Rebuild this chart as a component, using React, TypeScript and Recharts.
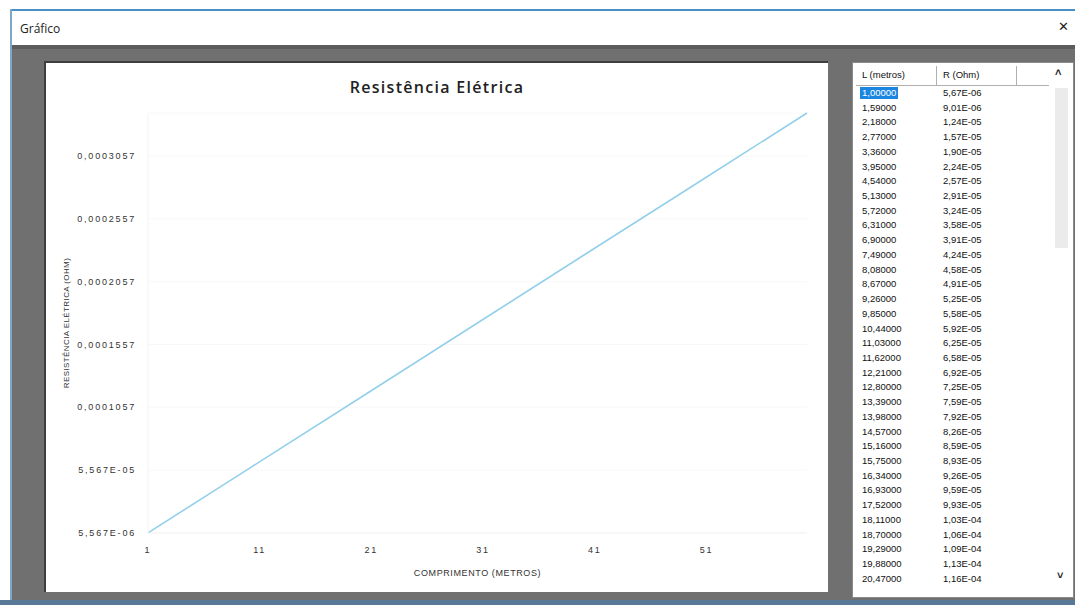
import React from "react";
import { LineChart, Line, XAxis, YAxis, CartesianGrid, Label } from "recharts";

// Values shown in the side table (L in metres, R in ohm)
const tableLengths = [
  1.0, 1.59, 2.18, 2.77, 3.36, 3.95, 4.54, 5.13, 5.72, 6.31, 6.9, 7.49, 8.08, 8.67, 9.26, 9.85, 10.44,
  11.03, 11.62, 12.21, 12.8, 13.39, 13.98, 14.57, 15.16, 15.75, 16.34, 16.93, 17.52, 18.11, 18.7, 19.29,
  19.88, 20.47,
];
const tableResistances = [
  5.67e-6, 9.01e-6, 1.24e-5, 1.57e-5, 1.9e-5, 2.24e-5, 2.57e-5, 2.91e-5, 3.24e-5, 3.58e-5, 3.91e-5,
  4.24e-5, 4.58e-5, 4.91e-5, 5.25e-5, 5.58e-5, 5.92e-5, 6.25e-5, 6.58e-5, 6.92e-5, 7.25e-5, 7.59e-5,
  7.92e-5, 8.26e-5, 8.59e-5, 8.93e-5, 9.26e-5, 9.59e-5, 9.93e-5, 1.03e-4, 1.06e-4, 1.09e-4, 1.13e-4,
  1.16e-4,
];
// Points
const lineLengths = [1, 10, 20, 30, 40, 50, 60];
const lineResistances = [5.667e-6, 5.667e-5, 1.133e-4, 1.7e-4, 2.267e-4, 2.833e-4, 3.4e-4];

const xTicks = [1, 11, 21, 31, 41, 51];
const yTicks = [5.567e-6, 5.567e-5, 1.057e-4, 1.557e-4, 2.057e-4, 2.557e-4, 3.057e-4];
const yTickLabels = ["5,567E-06", "5,567E-05", "0,0001057", "0,0001557", "0,0002057", "0,0002557", "0,0003057"];

const chartData = lineLengths.map((L, i) => ({ L, R: lineResistances[i] }));

const fmtL = (v: number) => v.toFixed(5).replace(".", ",");
const fmtR = (v: number) => {
  const [m, e] = v.toExponential(2).split("e");
  const exp = parseInt(e, 10);
  const sign = exp < 0 ? "-" : "+";
  return `${m.replace(".", ",")}E${sign}${String(Math.abs(exp)).padStart(2, "0")}`;
};

const tickFont = { fontFamily: "Liberation Sans, Arial, sans-serif", fontSize: 9, fill: "#333", letterSpacing: 1.8 };

export default function App() {
  const rowH = 14.72;
  return (
    <div
      style={{
        position: "fixed",
        left: 0,
        top: 0,
        width: 1075,
        height: 605,
        background: "#ffffff",
        overflow: "hidden",
        fontFamily: "Liberation Sans, Arial, sans-serif",
      }}
    >
      {/* window top line */}
      <div style={{ position: "absolute", left: 10, top: 9, width: 1065, height: 2, background: "#4a90c8" }} />
      <div style={{ position: "absolute", left: 10, top: 9, width: 2, height: 596, background: "#7fa6c4" }} />
      {/* title bar */}
      <div style={{ position: "absolute", left: 20, top: 20, fontSize: 12, color: "#222", fontFamily: "Open Sans, sans-serif" }}>
        Gráfico
      </div>
      <div style={{ position: "absolute", left: 1058, top: 19, fontSize: 13, color: "#222", fontFamily: "DejaVu Sans, sans-serif" }}>
        ✕
      </div>
      {/* grey client area */}
      <div style={{ position: "absolute", left: 12, top: 45, width: 1063, height: 556, background: "#707070" }} />
      <div style={{ position: "absolute", left: 12, top: 45, width: 1063, height: 4, background: "#5c5c5c" }} />
      <div style={{ position: "absolute", left: 0, top: 600, width: 1075, height: 5, background: "#587896" }} />

      {/* chart panel */}
      <div
        style={{
          position: "absolute",
          left: 44,
          top: 61,
          width: 784,
          height: 531,
          background: "#ffffff",
          borderLeft: "2px solid #3e3e3e",
          borderTop: "2px solid #3e3e3e",
          boxSizing: "border-box",
        }}
      />
      <div style={{ position: "absolute", left: 46, top: 63 }}>
        <LineChart width={782} height={529} data={chartData} margin={{ top: 50, right: 21, bottom: 16, left: 0 }}>
          <CartesianGrid stroke="#f8f8f8" vertical={false} />
          <XAxis
            dataKey="L"
            type="number"
            domain={[1, 60]}
            ticks={xTicks}
            height={43}
            axisLine={{ stroke: "#f3f3f3" }}
            tickLine={false}
            tickSize={4}
            tickMargin={10}
            tick={tickFont}
          >
            <Label
              value="COMPRIMENTO (METROS)"
              position="insideBottom"
              offset={0}
              style={{ fontFamily: "Liberation Sans, Arial, sans-serif", fontSize: 9, fill: "#333", letterSpacing: 0.6 }}
            />
          </XAxis>
          <YAxis
            type="number"
            domain={[5.567e-6, 3.4e-4]}
            ticks={yTicks}
            width={102}
            axisLine={{ stroke: "#f3f3f3" }}
            tickLine={false}
            tickSize={4}
            tickMargin={8}
            tick={tickFont}
            tickFormatter={(v: number) => {
              const idx = yTicks.indexOf(v);
              return idx >= 0 ? yTickLabels[idx] : String(v);
            }}
          >
            <Label
              value="RESISTÊNCIA ELÉTRICA (OHM)"
              angle={-90}
              position="insideLeft"
              offset={20}
              style={{ textAnchor: "middle", fontFamily: "Liberation Sans, Arial, sans-serif", fontSize: 8, fill: "#333", letterSpacing: 0.4 }}
            />
          </YAxis>
          <Line
            type="linear"
            dataKey="R"
            stroke="#94d0ea"
            strokeWidth={1.6}
            dot={false}
            isAnimationActive={false}
          />
        </LineChart>
      </div>
      <div
        style={{
          position: "absolute",
          left: 46,
          top: 76,
          width: 782,
          textAlign: "center",
          fontFamily: "Open Sans, sans-serif",
          fontWeight: 600,
          fontSize: 16,
          letterSpacing: 1.3,
          color: "#222",
        }}
      >
        Resistência Elétrica
      </div>

      {/* table panel */}
      <div
        style={{
          position: "absolute",
          left: 852,
          top: 62,
          width: 222,
          height: 536,
          background: "#ffffff",
          border: "1px solid #8a8a8a",
          boxSizing: "border-box",
        }}
      />
      {/* header */}
      <div style={{ position: "absolute", left: 856, top: 66, width: 193, height: 19, borderBottom: "1px solid #b0b0b0" }} />
      <div style={{ position: "absolute", left: 936, top: 66, width: 1, height: 19, background: "#b0b0b0" }} />
      <div style={{ position: "absolute", left: 1016, top: 66, width: 1, height: 19, background: "#b0b0b0" }} />
      <div style={{ position: "absolute", left: 862, top: 69, fontSize: 9.5, color: "#111" }}>L (metros)</div>
      <div style={{ position: "absolute", left: 943, top: 69, fontSize: 9.5, color: "#111" }}>R (Ohm)</div>
      {/* scrollbar */}
      <div style={{ position: "absolute", left: 1055, top: 66, fontSize: 11, fontWeight: 700, color: "#222" }}>˄</div>
      <div style={{ position: "absolute", left: 1055, top: 88, width: 13, height: 160, background: "#ebebeb" }} />
      <div style={{ position: "absolute", left: 1057, top: 569, fontSize: 11, fontWeight: 700, color: "#222" }}>˅</div>
      {/* rows */}
      {tableLengths.map((L, i) => (
        <React.Fragment key={i}>
          <div
            style={{
              position: "absolute",
              left: 860,
              top: 87 + i * rowH,
              height: 12,
              padding: "0 2px",
              fontSize: 9.5,
              lineHeight: "12px",
              background: i === 0 ? "#1a86e0" : "transparent",
              color: i === 0 ? "#ffffff" : "#111",
            }}
          >
            {fmtL(L)}
          </div>
          <div
            style={{
              position: "absolute",
              left: 943,
              top: 87 + i * rowH,
              fontSize: 9.5,
              lineHeight: "12px",
              color: "#111",
            }}
          >
            {fmtR(tableResistances[i])}
          </div>
        </React.Fragment>
      ))}
    </div>
  );
}
